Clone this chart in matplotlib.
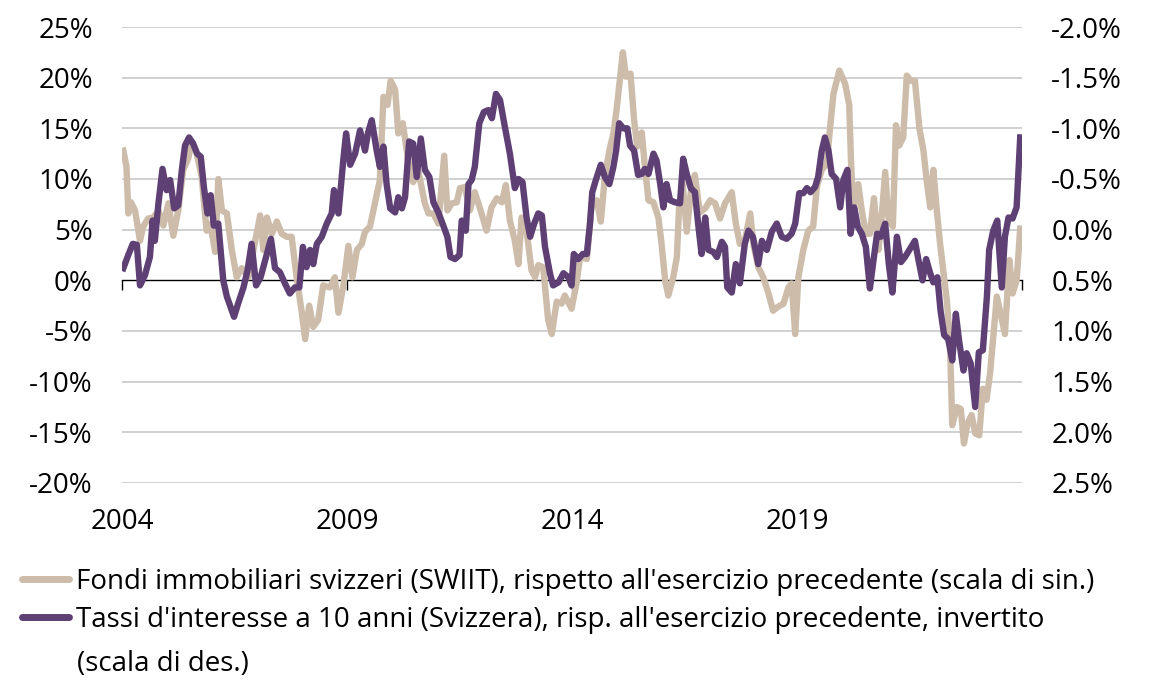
import matplotlib.pyplot as plt
from matplotlib.lines import Line2D
from matplotlib.ticker import FixedLocator

plt.rcParams['font.family'] = ['Open Sans', 'DejaVu Sans']

# Swiss real estate funds (SWIIT), y/y in % (left scale)
swiit_years = [2004.03, 2004.10, 2004.14, 2004.20, 2004.29, 2004.40, 2004.47, 2004.58, 2004.70, 2004.81,
               2004.92, 2005.03, 2005.14, 2005.25, 2005.36, 2005.47, 2005.55, 2005.66, 2005.77, 2005.88,
               2005.96, 2006.07, 2006.14, 2006.22, 2006.33, 2006.44, 2006.55, 2006.66, 2006.81, 2006.96,
               2007.07, 2007.14, 2007.22, 2007.33, 2007.44, 2007.55, 2007.66, 2007.77, 2007.88, 2007.99,
               2008.07, 2008.16, 2008.25, 2008.36, 2008.47, 2008.62, 2008.73, 2008.81, 2008.92, 2009.03,
               2009.12, 2009.22, 2009.33, 2009.40, 2009.51, 2009.62, 2009.73, 2009.81, 2009.90, 2009.97,
               2010.07, 2010.14, 2010.24, 2010.36, 2010.47, 2010.58, 2010.73, 2010.81, 2010.92, 2011.03,
               2011.16, 2011.23, 2011.33, 2011.44, 2011.51, 2011.62, 2011.73, 2011.84, 2011.99, 2012.10,
               2012.21, 2012.33, 2012.44, 2012.53, 2012.62, 2012.73, 2012.81, 2012.88, 2012.99, 2013.10,
               2013.18, 2013.25, 2013.36, 2013.47, 2013.55, 2013.66, 2013.77, 2013.84, 2013.99, 2014.10,
               2014.18, 2014.33, 2014.44, 2014.55, 2014.64, 2014.73, 2014.83, 2014.92, 2014.99, 2015.07,
               2015.13, 2015.20, 2015.30, 2015.38, 2015.45, 2015.55, 2015.62, 2015.70, 2015.81, 2015.92,
               2015.99, 2016.07, 2016.14, 2016.25, 2016.33, 2016.38, 2016.46, 2016.55, 2016.64, 2016.73,
               2016.84, 2016.96, 2017.07, 2017.18, 2017.29, 2017.40, 2017.55, 2017.64, 2017.73, 2017.84,
               2017.96, 2018.03, 2018.14, 2018.25, 2018.36, 2018.47, 2018.58, 2018.70, 2018.81, 2018.88,
               2018.96, 2019.03, 2019.14, 2019.25, 2019.36, 2019.44, 2019.55, 2019.66, 2019.73, 2019.81,
               2019.94, 2020.07, 2020.16, 2020.20, 2020.25, 2020.36, 2020.44, 2020.53, 2020.62, 2020.71,
               2020.81, 2020.88, 2020.96, 2021.03, 2021.13, 2021.20, 2021.27, 2021.36, 2021.44, 2021.53,
               2021.62, 2021.72, 2021.81, 2021.88, 2021.96, 2022.03, 2022.10, 2022.18, 2022.25, 2022.33,
               2022.40, 2022.45, 2022.55, 2022.64, 2022.71, 2022.79, 2022.88, 2022.96, 2023.05, 2023.13,
               2023.21, 2023.29, 2023.36, 2023.44, 2023.51, 2023.62, 2023.72, 2023.79, 2023.88, 2023.96]
swiit_yoy = [12.8, 11.2, 6.6, 7.7, 6.9, 3.9, 5.3, 6.1, 6.2, 6.9,
             5.4, 7.6, 4.4, 6.9, 10.9, 12.0, 13.7, 12.5, 10.2, 4.9,
             5.6, 2.8, 10.0, 6.9, 6.6, 3.0, 0.3, 1.2, 0.3, 3.9,
             6.4, 3.0, 6.2, 4.6, 5.8, 4.6, 4.3, 4.3, 0.3, -3.0,
             -5.8, -2.5, -4.6, -3.9, -0.5, -0.7, 0.3, -3.2, -0.5, 3.4,
             0.3, 3.0, 3.6, 4.8, 5.3, 7.6, 9.9, 18.1, 17.3, 19.7,
             18.8, 14.5, 15.5, 11.8, 9.7, 10.9, 7.6, 6.6, 6.6, 5.6,
             12.3, 6.9, 7.6, 7.7, 9.1, 9.2, 6.9, 8.7, 6.6, 4.9,
             7.2, 8.1, 7.7, 9.4, 5.9, 3.9, 1.6, 6.2, 4.9, 1.0,
             0.3, 1.5, 1.3, -3.9, -5.3, -2.1, -2.3, -1.5, -2.8, -0.3,
             2.3, 2.1, 7.6, 7.9, 5.8, 10.2, 12.8, 14.5, 16.8, 20.1,
             22.5, 20.1, 20.4, 15.8, 13.2, 14.6, 11.2, 7.9, 7.7, 6.2,
             3.6, 0.0, -1.5, 0.3, 2.3, 7.2, 9.5, 4.8, 8.7, 10.4,
             6.7, 7.1, 7.9, 7.6, 6.1, 7.6, 8.7, 5.6, 3.6, 3.9,
             6.6, 3.6, 1.3, 0.3, -1.2, -3.0, -2.6, -2.3, -0.7, -0.3,
             -5.3, 0.3, 3.0, 4.9, 5.3, 9.2, 10.9, 11.5, 14.8, 18.4,
             20.7, 19.4, 17.3, 11.8, 6.9, 9.5, 6.9, 4.6, 4.6, 8.1,
             3.0, 6.2, 10.7, 6.2, 5.3, 15.3, 13.3, 14.1, 20.2, 19.7,
             19.7, 15.0, 12.8, 9.9, 7.2, 10.9, 7.2, 3.6, 1.0, -2.0,
             -6.2, -14.3, -12.5, -12.7, -16.1, -14.1, -13.3, -15.1, -15.3, -10.7,
             -11.8, -9.2, -5.6, -1.6, -3.0, -5.3, 2.0, -1.3, 0.0, 5.1]

# 10y Swiss interest rates, y/y change in %-points (right scale, inverted)
rates_years = [2004.03, 2004.14, 2004.24, 2004.33, 2004.40, 2004.51, 2004.62, 2004.68, 2004.73, 2004.81,
               2004.90, 2004.99, 2005.07, 2005.16, 2005.25, 2005.33, 2005.40, 2005.49, 2005.58, 2005.67,
               2005.75, 2005.82, 2005.90, 2005.97, 2006.04, 2006.14, 2006.25, 2006.33, 2006.49, 2006.58,
               2006.70, 2006.79, 2006.88, 2006.98, 2007.08, 2007.20, 2007.31, 2007.40, 2007.51, 2007.62,
               2007.73, 2007.84, 2007.94, 2008.02, 2008.10, 2008.18, 2008.25, 2008.33, 2008.44, 2008.55,
               2008.66, 2008.71, 2008.81, 2008.92, 2008.98, 2009.07, 2009.18, 2009.29, 2009.40, 2009.47,
               2009.55, 2009.66, 2009.73, 2009.81, 2009.88, 2009.96, 2010.07, 2010.14, 2010.22, 2010.29,
               2010.38, 2010.47, 2010.55, 2010.64, 2010.73, 2010.83, 2010.92, 2011.03, 2011.14, 2011.23,
               2011.30, 2011.40, 2011.50, 2011.55, 2011.64, 2011.70, 2011.77, 2011.84, 2011.94, 2012.04,
               2012.14, 2012.22, 2012.31, 2012.40, 2012.51, 2012.62, 2012.73, 2012.81, 2012.90, 2012.99,
               2013.07, 2013.16, 2013.25, 2013.33, 2013.40, 2013.51, 2013.58, 2013.70, 2013.81, 2013.92,
               2013.99, 2014.04, 2014.14, 2014.24, 2014.33, 2014.40, 2014.45, 2014.53, 2014.64, 2014.73,
               2014.83, 2014.92, 2014.98, 2015.05, 2015.14, 2015.23, 2015.29, 2015.38, 2015.47, 2015.55,
               2015.62, 2015.70, 2015.81, 2015.88, 2015.96, 2016.03, 2016.10, 2016.18, 2016.29, 2016.40,
               2016.47, 2016.55, 2016.64, 2016.73, 2016.81, 2016.88, 2016.96, 2017.03, 2017.14, 2017.22,
               2017.33, 2017.40, 2017.45, 2017.55, 2017.64, 2017.73, 2017.84, 2017.92, 2018.02, 2018.14,
               2018.22, 2018.33, 2018.44, 2018.55, 2018.66, 2018.77, 2018.88, 2018.96, 2019.05, 2019.14,
               2019.22, 2019.30, 2019.40, 2019.47, 2019.55, 2019.62, 2019.70, 2019.77, 2019.87, 2019.96,
               2020.03, 2020.12, 2020.19, 2020.27, 2020.35, 2020.44, 2020.53, 2020.62, 2020.70, 2020.78,
               2020.86, 2020.96, 2021.04, 2021.12, 2021.22, 2021.31, 2021.40, 2021.51, 2021.62, 2021.70,
               2021.79, 2021.87, 2021.96, 2022.03, 2022.12, 2022.19, 2022.27, 2022.36, 2022.45, 2022.53,
               2022.60, 2022.70, 2022.77, 2022.86, 2022.96, 2023.04, 2023.13, 2023.22, 2023.27, 2023.36,
               2023.45, 2023.55, 2023.62, 2023.70, 2023.79, 2023.88, 2023.96]
rates_yoy = [0.38, 0.25, 0.14, 0.15, 0.55, 0.45, 0.27, -0.09, 0.11, -0.26,
             -0.60, -0.39, -0.49, -0.21, -0.24, -0.59, -0.83, -0.91, -0.85, -0.75,
             -0.72, -0.42, -0.16, -0.34, -0.04, -0.06, 0.50, 0.66, 0.86, 0.73,
             0.57, 0.40, 0.14, 0.55, 0.47, 0.27, 0.09, 0.38, 0.42, 0.53,
             0.63, 0.57, 0.57, 0.17, 0.37, 0.20, 0.34, 0.14, 0.07, -0.06,
             -0.16, -0.39, -0.16, -0.70, -0.95, -0.64, -0.75, -0.98, -0.78, -0.96,
             -1.08, -0.78, -0.62, -0.82, -0.45, -0.21, -0.17, -0.32, -0.21, -0.32,
             -0.87, -0.85, -0.52, -0.90, -0.59, -0.52, -0.27, -0.17, -0.04, 0.07,
             0.27, 0.29, 0.25, -0.09, 0.01, -0.45, -0.49, -0.62, -1.05, -1.16,
             -1.18, -1.10, -1.34, -1.28, -1.01, -0.75, -0.41, -0.50, -0.47, -0.12,
             0.07, -0.06, -0.16, -0.14, 0.17, 0.43, 0.55, 0.52, 0.43, 0.47,
             0.55, 0.24, 0.29, 0.24, 0.24, -0.06, -0.37, -0.49, -0.64, -0.52,
             -0.45, -0.62, -0.78, -1.05, -1.00, -1.00, -0.83, -0.78, -0.54, -0.55,
             -0.60, -0.55, -0.75, -0.68, -0.45, -0.22, -0.45, -0.29, -0.27, -0.26,
             -0.70, -0.55, -0.41, -0.37, -0.03, 0.24, -0.12, 0.20, 0.22, 0.27,
             0.12, 0.17, 0.57, 0.62, 0.34, 0.53, 0.14, 0.01, 0.07, 0.34,
             0.11, 0.20, 0.02, -0.06, 0.07, 0.09, 0.04, -0.06, -0.36, -0.36,
             -0.41, -0.37, -0.42, -0.52, -0.78, -0.91, -0.78, -0.55, -0.50, -0.22,
             -0.49, -0.59, 0.04, -0.22, -0.03, 0.04, 0.17, 0.58, 0.30, 0.04,
             0.07, -0.06, 0.34, 0.62, 0.07, 0.32, 0.27, 0.19, 0.11, 0.30,
             0.50, 0.29, 0.43, 0.52, 0.47, 0.80, 1.04, 1.08, 1.29, 0.83,
             1.09, 1.39, 1.22, 1.32, 1.75, 1.21, 1.19, 0.66, 0.20, 0.01,
             -0.09, 0.57, 0.07, -0.12, -0.11, -0.22, -0.91]

left_ticks = [-20, -15, -10, -5, 0, 5, 10, 15, 20, 25]
right_ticks = [-2.0, -1.5, -1.0, -0.5, 0.0, 0.5, 1.0, 1.5, 2.0, 2.5]
year_ticks = [2004, 2009, 2014, 2019, 2024]
year_labels = ["2004", "2009", "2014", "2019"]

beige = "#CDBCAA"
purple = "#5F4075"
fs = 20

fig = plt.figure(figsize=(11.6, 6.81), dpi=100)
ax = fig.add_axes([122 / 1160, 1 - 483 / 681, 900 / 1160, 456 / 681])

ax.plot(swiit_years, swiit_yoy, color=beige, lw=4.6, solid_joinstyle="round", zorder=3)
ax.set_xlim(2004, 2024)
ax.set_ylim(-20, 25)
ax.set_yticks(left_ticks)
ax.set_yticklabels([f"{t}%" for t in left_ticks], fontsize=fs)
for t in left_ticks:
    if t != 0:
        ax.axhline(t, color="#C8C8C8", lw=1.2, zorder=1)

for s in ["top", "left", "right"]:
    ax.spines[s].set_visible(False)
ax.spines["bottom"].set_position(("data", 0))
ax.spines["bottom"].set_color("black")
ax.spines["bottom"].set_linewidth(1.0)
ax.spines["bottom"].set_zorder(2)
ax.xaxis.set_major_locator(FixedLocator(year_ticks))
ax.tick_params(axis="x", direction="out", length=7, width=1, labelbottom=False)
ax.tick_params(axis="y", length=0, pad=21)
for yr, lab in zip(year_ticks, year_labels):
    ax.text(yr, -0.085, lab, transform=ax.get_xaxis_transform(),
            ha="center", va="center", fontsize=fs)

ax2 = ax.twinx()
ax2.plot(rates_years, rates_yoy, color=purple, lw=4.6, solid_joinstyle="round", zorder=4)
ax2.set_ylim(2.5, -2.0)
ax2.set_yticks(right_ticks)
ax2.set_yticklabels([f"{t:.1f}%" for t in right_ticks], fontsize=fs)
ax2.tick_params(axis="y", length=0, pad=21)
for s in ["top", "left", "right", "bottom"]:
    ax2.spines[s].set_visible(False)

handles = [Line2D([], [], color=beige, lw=5, solid_capstyle="round"),
           Line2D([], [], color=purple, lw=5, solid_capstyle="round")]
labels = ["Fondi immobiliari svizzeri (SWIIT), rispetto all'esercizio precedente (scala di sin.)",
          "Tassi d'interesse a 10 anni (Svizzera), risp. all'esercizio precedente, invertito"]
fig.legend(handles, labels, loc="upper left", bbox_to_anchor=(22 / 1160, 1 - 568 / 681),
           frameon=False, fontsize=fs, handlelength=1.7, handletextpad=0.25,
           borderpad=0, borderaxespad=0, labelspacing=0.36)
fig.text(77 / 1160, 1 - 671 / 681, "(scala di des.)", fontsize=fs, va="baseline", ha="left")

fig.savefig("out.png", dpi=100)
